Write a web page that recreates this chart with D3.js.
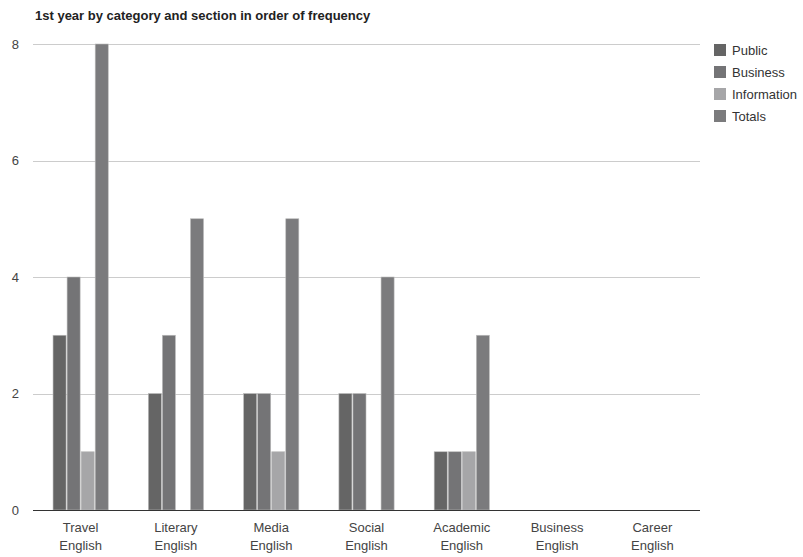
<!DOCTYPE html>
<html><head><meta charset="utf-8">
<script src="https://cdn.jsdelivr.net/npm/d3@7"></script>
<style>body{margin:0;background:#fff;font-family:Arial,"Liberation Sans",sans-serif;}</style>
</head><body>
<svg id="c" width="803" height="557"></svg>
<script>
const categories = [["Travel","English"],["Literary","English"],["Media","English"],["Social","English"],["Academic","English"],["Business","English"],["Career","English"]];
const seriesNames = ["Public","Business","Information","Totals"];
const publicVals = [3,2,2,2,1,0,0];
const businessVals = [4,3,2,2,1,0,0];
const informationVals = [1,0,1,0,1,0,0];
const totalsVals = [8,5,5,4,3,0,0];
const yTicks = [0,2,4,6,8];
const colors = ["#656565","#747476","#a6a6a8","#7b7b7d"];

(function(){
const seriesVals = [publicVals,businessVals,informationVals,totalsVals];
const svg = d3.select("#c");
const mL=33,mR=700,mT=44,mB=510;
const x = d3.scaleBand().domain(categories.map((d,i)=>i)).range([mL,mR]).paddingInner(0.41).paddingOuter(0.205);
const xs = d3.scaleBand().domain(seriesNames).range([0,x.bandwidth()]);
const y = d3.scaleLinear().domain([0,8]).range([mB,mT]);

svg.append("text").attr("x",35).attr("y",20).attr("font-size",13).attr("font-weight","bold").attr("fill","#222").text("1st year by category and section in order of frequency");

svg.append("g").selectAll("line").data(yTicks.filter(d=>d>0)).join("line")
 .attr("x1",mL).attr("x2",mR).attr("y1",d=>Math.round(y(d))+0.5).attr("y2",d=>Math.round(y(d))+0.5).attr("stroke","#cccccc").attr("stroke-width",1);
svg.append("g").selectAll("text").data(yTicks).join("text")
 .attr("x",19).attr("y",d=>y(d)+4.5).attr("text-anchor","end").attr("font-size",13).attr("fill","#444").text(d=>d);

const g = svg.append("g");
seriesNames.forEach((s,si)=>{
  g.selectAll(null).data(seriesVals[si].map((v,i)=>({v,i}))).join("rect")
   .attr("x",d=>x(d.i)+xs(s)+0.5).attr("y",d=>y(d.v)).attr("width",xs.bandwidth()-1).attr("height",d=>y(0)-y(d.v))
   .attr("fill",colors[si]).attr("stroke","#bdbdbd").attr("stroke-width",0.6).style("display",d=>d.v>0?null:"none");
});

svg.append("line").attr("x1",mL).attr("x2",mR).attr("y1",mB+0.5).attr("y2",mB+0.5).attr("stroke","#333").attr("stroke-width",1);

const xl = svg.append("g").selectAll("text").data(categories.map((c,i)=>({c,i}))).join("text")
 .attr("text-anchor","middle").attr("font-size",13).attr("fill","#444");
xl.each(function(d){
  const t=d3.select(this);
  d.c.forEach((w,k)=>t.append("tspan").attr("x",x(d.i)+x.bandwidth()/2).attr("y",532+k*18).text(w));
});

const lg = svg.append("g").selectAll("g").data(seriesNames).join("g").attr("transform",(d,i)=>`translate(714,${44+i*22})`);
lg.append("rect").attr("width",12).attr("height",12).attr("fill",(d,i)=>colors[i]);
lg.append("text").attr("x",18).attr("y",11).attr("font-size",13).attr("fill","#333").text(d=>d);
})();
</script>
</body></html>
